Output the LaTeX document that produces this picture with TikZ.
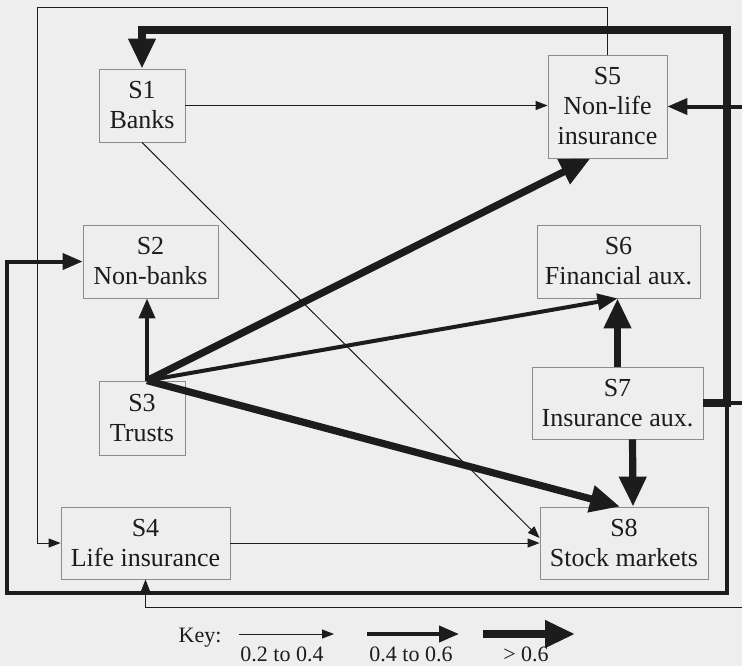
\documentclass[tikz,border=0pt]{standalone}
\usepackage{fontspec}
\setmainfont{Liberation Serif}
\usetikzlibrary{arrows.meta,calc}
\definecolor{ink}{HTML}{1C1C1C}
\definecolor{paper}{HTML}{EEEEEE}
\definecolor{frame}{HTML}{8C8C8C}

\begin{document}
\begin{tikzpicture}[x=0.5pt, y=-0.5pt,
  sect/.style={rectangle, draw=frame, line width=0.4pt, align=center, inner sep=0pt, text=ink,
    font=\fontsize{13}{15}\selectfont},
  arrA/.style={-{Triangle[length=6pt,width=4.5pt]}, line width=0.5pt, draw=ink},
  arrB/.style={-{Triangle[length=10pt,width=8pt]}, line width=2pt, draw=ink},
  arrC/.style={-{Triangle[length=15pt,width=13pt]}, line width=3.6pt, draw=ink},
  keytxt/.style={text=ink, font=\fontsize{11}{13}\selectfont, inner sep=1pt}
]
  \useasboundingbox (0,0) rectangle (742,666);
  \fill[paper] (0,0) rectangle (742,666);

  % sectors
  \node[sect, minimum width=43pt,   minimum height=36.5pt] (s1) at (142,105.5)   {S1\\Banks};
  \node[sect, minimum width=67.5pt, minimum height=36.5pt] (s2) at (150.5,261.5) {S2\\Non-banks};
  \node[sect, minimum width=43pt,   minimum height=37pt]   (s3) at (142,418)     {S3\\Trusts};
  \node[sect, minimum width=84.5pt, minimum height=36pt]   (s4) at (145.5,543)   {S4\\Life insurance};
  \node[sect, minimum width=59.5pt, minimum height=51.5pt] (s5) at (607.5,106.5) {S5\\Non-life\\insurance};
  \node[sect, minimum width=81.5pt, minimum height=36.5pt] (s6) at (618.5,261.5) {S6\\Financial aux.};
  \node[sect, minimum width=85.5pt, minimum height=36pt]   (s7) at (617.5,403)   {S7\\Insurance aux.};
  \node[sect, minimum width=84pt,   minimum height=36pt]   (s8) at (624,543)     {S8\\Stock markets};

  % 0.2 to 0.4
  \draw[arrA] (s1.east) -- (s1.east -| s5.west);
  \draw[arrA] (s1.south) -- ($(s8.west)+(0,-5)$);
  \draw[arrA] (s4.east) -- (s4.east -| s8.west);
  \draw[arrA] (s5.north) |- (37,7) |- (s4.west);
  \draw[arrA] (s7.east) -| (765,607) -| (s4.south);

  % 0.4 to 0.6
  \coordinate (s3o) at ($(s3.north)+(5,0)$);
  \draw[arrB] (s3o) -- (s3o |- s2.south);
  \draw[arrB] (s3o) -- ($(s6.south)+(-1,0)$);
  \draw[arrB] (s7.east) -| (727,593) -- (7,593) |- (s2.west);
  \draw[arrB] (s7.east) -- (765,403) |- (s5.east);

  % > 0.6
  \draw[arrC] (s3o) -- ($(s5.south)+(-17,0)$);
  \draw[arrC] (s3o) -- ($(s8.north)+(-4,0)$);
  \draw[arrC] (s7.north) -- (s7.north |- s6.south);
  \draw[arrC] ($(s7.south)+(15,0)$) -- ($(s8.north)+(9,0)$);
  \draw[arrC] (s7.east) -| (727,30) -| (s1.north);

  % key
  \node[keytxt] (key) at (200,638) {Key:};
  \node[keytxt] (k1) at (282,654) {0.2 to 0.4};
  \node[keytxt] (k2) at (411,654) {0.4 to 0.6};
  \node[keytxt] (k3) at (526,654) {> 0.6};
  \draw[arrA] (239,634) -- (334,634);
  \draw[arrB] (367,634) -- (459,634);
  \draw[arrC] (483,634) -- (575,634);
\end{tikzpicture}
\end{document}
